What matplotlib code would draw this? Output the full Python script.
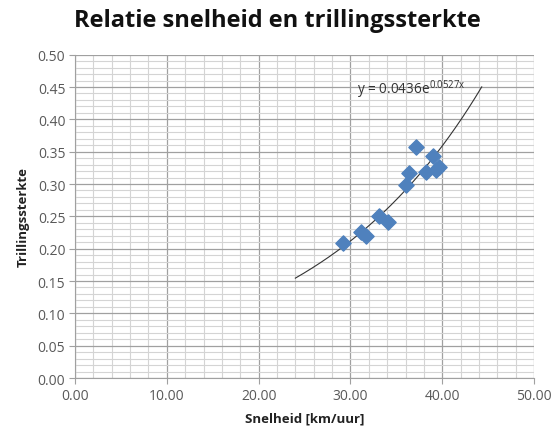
import numpy as np
import matplotlib
matplotlib.use('Agg')
import matplotlib.pyplot as plt
from matplotlib.ticker import MultipleLocator, FormatStrFormatter

snelheid = [29.2, 31.1, 31.7, 33.1, 34.1, 36.1, 36.4, 37.1, 38.2, 39.0, 39.3, 39.6]
trilling = [0.209, 0.226, 0.220, 0.251, 0.242, 0.298, 0.317, 0.357, 0.319, 0.343, 0.322, 0.326]

# exponential trendline as given on the chart
trend_a = 0.0436
trend_b = 0.0527
trend_x_start = 24.0
trend_x_end = 44.3

plt.rcParams['font.family'] = ['Open Sans', 'DejaVu Sans']
plt.rcParams['mathtext.default'] = 'regular'

fig = plt.figure(figsize=(5.54, 4.35), dpi=100)
ax = fig.add_axes([0.1354, 0.1287, 0.8286, 0.7433])

ax.set_xlim(0, 50)
ax.set_ylim(0, 0.5)
ax.xaxis.set_major_locator(MultipleLocator(10))
ax.xaxis.set_minor_locator(MultipleLocator(2))
ax.yaxis.set_major_locator(MultipleLocator(0.05))
ax.yaxis.set_minor_locator(MultipleLocator(0.01))
ax.xaxis.set_major_formatter(FormatStrFormatter('%.2f'))
ax.yaxis.set_major_formatter(FormatStrFormatter('%.2f'))

ax.grid(which='minor', color='#d4d4d4', linewidth=0.8, zorder=0.4)
ax.grid(which='major', color='#a0a0a0', linewidth=0.9, zorder=0.5)
ax.set_axisbelow(True)

for side in ['top', 'right']:
    ax.spines[side].set_visible(False)
for side in ['left', 'bottom']:
    ax.spines[side].set_color('#a0a0a0')

ax.tick_params(which='major', length=4, color='#a0a0a0', labelsize=10, labelcolor='#595959', pad=3)
ax.tick_params(which='minor', length=0)

tx = np.linspace(trend_x_start, trend_x_end, 200)
ax.plot(tx, trend_a * np.exp(trend_b * tx), color='#333333', linewidth=0.8)

ax.scatter(snelheid, trilling, marker='D', s=60, color='#4f81bd', zorder=3)

ax.text(30.7, 0.447, r'y = 0.0436e$^{0.0527x}$', fontsize=9.8, color='#333333', va='center')

ax.set_xlabel('Snelheid [km/uur]', fontsize=9.5, fontweight='bold', color='#222222', labelpad=6)
ax.set_ylabel('Trillingssterkte', fontsize=9.5, fontweight='bold', color='#222222', labelpad=6)

fig.text(0.5, 0.952, 'Relatie snelheid en trillingssterkte', fontsize=17, fontweight='bold',
         ha='center', va='center', color='#111111')

fig.savefig('out.png', dpi=100)
